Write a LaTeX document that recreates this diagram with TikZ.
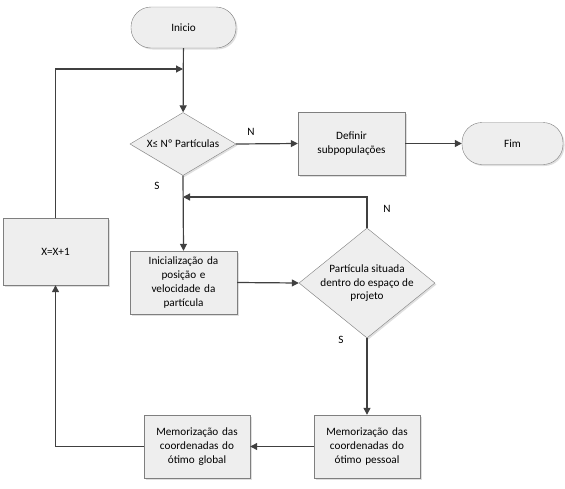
\documentclass[tikz,border=0pt]{standalone}
\usepackage{fontspec}
\setmainfont{Carlito}
\usetikzlibrary{shapes.geometric,arrows.meta,shadows}
\definecolor{linegray}{HTML}{404040}
\definecolor{edgegray}{HTML}{7F7F7F}
\definecolor{fillgray}{HTML}{EEEEEE}
\newcommand{\flatlines}[1]{\smash{\makebox[0pt]{\raisebox{-3pt}{\begin{tabular}{@{}c@{}}#1\end{tabular}}}}}
\begin{document}
\begin{tikzpicture}[x=1pt,y=-1pt,
  font=\fontsize{11.2}{13.8}\selectfont,
  box/.style={draw=edgegray, fill=fillgray, align=center,
    drop shadow={shadow xshift=1.5pt, shadow yshift=-1.5pt, opacity=0.25}},
  proc/.style={box, rectangle, inner sep=2pt, minimum width=107pt, minimum height=63pt, text width=100pt},
  term/.style={box, rectangle, rounded corners=20pt, minimum width=105pt, minimum height=41pt},
  dec/.style={box, diamond, inner sep=0pt},
  arr/.style={draw=linegray, line width=1.2pt, -{Triangle[length=7pt,width=7pt]}},
  lin/.style={draw=linegray, line width=1.2pt}]
\useasboundingbox (0,0) rectangle (565,488);
\node[term] (ini) at (183.5,27.5) {Inicio};
\node[dec, minimum width=106pt, minimum height=63pt] (d1) at (183,144) {\flatlines{X≤ Nº Partículas}};
\node[proc] (def) at (351.5,143.5) {Definir\\subpopulações};
\node[term, minimum width=101pt, minimum height=42pt] (fim) at (512.5,143.5) {Fim};
\node[proc] (inic) at (183.5,282.5) {Inicialização da\\posição e\\velocidade da\\partícula};
\node[dec, minimum width=136pt, minimum height=110pt] (d2) at (367,283) {\flatlines{Partícula situada\\dentro do espaço de\\projeto}};
\node[proc, minimum width=106pt] (memp) at (367,446.5) {Memorização das\\coordenadas do\\ótimo pessoal};
\node[proc, minimum width=106pt] (memg) at (197,446.5) {Memorização das\\coordenadas do\\ótimo global};
\node[proc, minimum width=105pt, minimum height=67pt] (xinc) at (55.5,251.5) {X=X+1};
\node (n1) at (251,132) {N};
\node (s1) at (157,186) {S};
\node (n2) at (387,209) {N};
\node (s2) at (341,340) {S};
\coordinate (j1) at (183,69);
\coordinate (j2) at (183,197);
\draw[arr] (ini) -- (d1);
\draw[arr] (xinc.north) |- (j1);
\draw[arr] (d1.east) -- (def.west);
\draw[arr] (def.east) -- (fim.west);
\draw[arr] (d1.south) -- (inic.north);
\draw[arr] (d2.north) |- (j2);
\draw[arr] (inic.east) -- (d2.west);
\draw[arr] (d2.south) -- (memp.north);
\draw[arr] (memp.west) -- (memg.east);
\draw[arr] (memg.west) -| (xinc.south);
\end{tikzpicture}
\end{document}
